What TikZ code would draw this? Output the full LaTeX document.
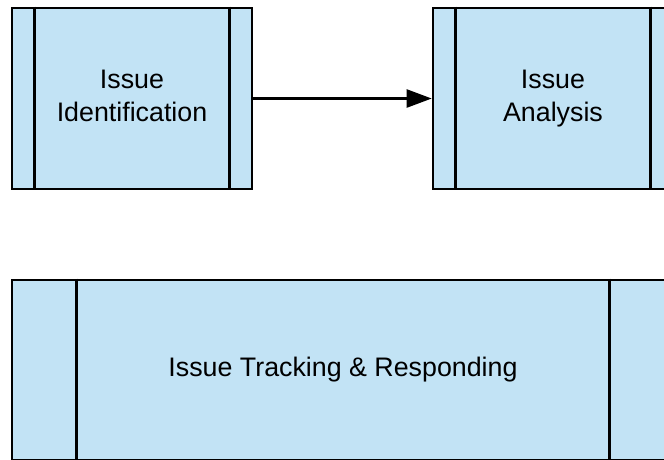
\documentclass[tikz,border=0pt]{standalone}
\usepackage{fontspec}
\setmainfont{Liberation Sans}
\usetikzlibrary{arrows.meta}
\definecolor{boxblue}{HTML}{C2E3F5}
\tikzset{
    procbox/.style={draw, fill=boxblue, line width=2.6pt, minimum width=240pt,
        minimum height=181pt, align=center, inner sep=0pt,
        font=\fontsize{26.8}{33}\selectfont},
    flow/.style={line width=2.4pt, -{Triangle[length=25pt,width=18pt]}}
}
\begin{document}
\begin{tikzpicture}[x=1pt, y=-1pt]
    \useasboundingbox (0, 0) rectangle (664, 459);

    \node[procbox] (idn) at(132, 98.5){Issue\\Identification\vphantom{y}};
        \draw[line width=2.6pt] ([xshift=24pt]idn.north west) to ([xshift=24pt]idn.south west);
        \draw[line width=2.6pt] ([xshift=-24pt]idn.north east) to ([xshift=-24pt]idn.south east);
    \node[procbox] (ana) at(553, 98.5){Issue\\Analysis};
        \draw[line width=2.6pt] ([xshift=24pt]ana.north west) to ([xshift=24pt]ana.south west);
        \draw[line width=2.6pt] ([xshift=-24pt]ana.north east) to ([xshift=-24pt]ana.south east);

    \node[procbox, minimum width=662pt, minimum height=180pt] (trk) at(343, 370){Issue Tracking \& Responding};
        \draw[line width=2.6pt] ([xshift=66pt]trk.north west) to ([xshift=66pt]trk.south west);
        \draw[line width=2.6pt] ([xshift=-66pt]trk.north east) to ([xshift=-66pt]trk.south east);

    \draw[flow] (idn) to (ana);
\end{tikzpicture}
\end{document}
